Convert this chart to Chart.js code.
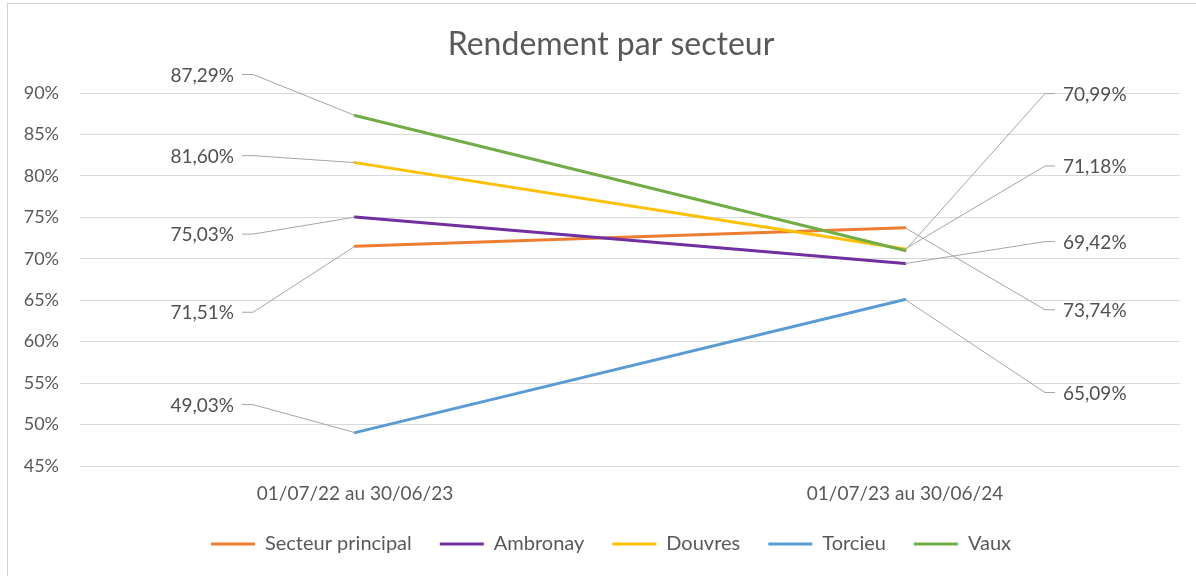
<!DOCTYPE html>
<html>
<head>
<meta charset="utf-8">
<script src="https://cdn.jsdelivr.net/npm/chart.js@4/dist/chart.umd.min.js"></script>
<style>
  html, body { margin: 0; padding: 0; background: #ffffff; overflow: hidden; }
  #wrap { width: 1222px; height: 576px; }
</style>
</head>
<body>
<div id="wrap"><canvas id="c" width="1222" height="576"></canvas></div>
<script>
// ---- Data ----
const categories = ['01/07/22 au 30/06/23', '01/07/23 au 30/06/24'];
const seriesNames = ['Secteur principal', 'Ambronay', 'Douvres', 'Torcieu', 'Vaux'];
const secteurPrincipal = [71.51, 73.74];
const ambronay = [75.03, 69.42];
const douvres = [81.60, 71.18];
const torcieu = [49.03, 65.09];
const vaux = [87.29, 70.99];
const yTicks = [45, 50, 55, 60, 65, 70, 75, 80, 85, 90];

// ---- Styling / layout (kept apart from data) ----
const seriesColors = ['#ED7D31', '#7030A0', '#FFC000', '#5B9BD5', '#70AD47'];
// vertical shift (px) of each data label relative to its point: [left point, right point]
const labelShiftY = [
  [66, 82],
  [17, -22],
  [-7, -83],
  [-28, 93],
  [-41, -157]
];
const FONT = "Lato, 'Open Sans', sans-serif";
const TEXT = '#595959';

const seriesValues = [secteurPrincipal, ambronay, douvres, torcieu, vaux];

const borderPlugin = {
  id: 'outerBorder',
  beforeDraw(chart) {
    const ctx = chart.ctx;
    ctx.save();
    ctx.fillStyle = '#ffffff';
    ctx.fillRect(0, 0, chart.width, chart.height);
    ctx.strokeStyle = '#D0D0D0';
    ctx.lineWidth = 1;
    ctx.strokeRect(7.5, 3.5, chart.width - 15, chart.height + 20);
    ctx.restore();
  }
};

const labelPlugin = {
  id: 'leaderLabels',
  afterDatasetsDraw(chart) {
    const ctx = chart.ctx;
    ctx.save();
    ctx.font = '19px ' + FONT;
    ctx.textBaseline = 'middle';
    chart.data.datasets.forEach((ds, i) => {
      const meta = chart.getDatasetMeta(i);
      meta.data.forEach((pt, j) => {
        const v = ds.data[j];
        const ly = pt.y + labelShiftY[i][j];
        const txt = v.toFixed(2).replace('.', ',') + '%';
        let endX, kneeX, textX, align;
        if (j === 0) {
          kneeX = pt.x - 102; endX = pt.x - 113; textX = pt.x - 121; align = 'right';
        } else {
          kneeX = pt.x + 140; endX = pt.x + 150; textX = pt.x + 158; align = 'left';
        }
        ctx.strokeStyle = '#A6A6A6';
        ctx.lineWidth = 1;
        ctx.beginPath();
        ctx.moveTo(pt.x, pt.y);
        ctx.lineTo(kneeX, ly);
        ctx.lineTo(endX, ly);
        ctx.stroke();
        ctx.fillStyle = '#505050';
        ctx.textAlign = align;
        ctx.fillText(txt, textX, ly + 1);
      });
    });
    ctx.restore();
  }
};

new Chart(document.getElementById('c'), {
  type: 'line',
  data: {
    labels: categories,
    datasets: seriesNames.map((name, i) => ({
      label: name,
      data: seriesValues[i],
      borderColor: seriesColors[i],
      backgroundColor: seriesColors[i],
      borderWidth: 3,
      borderCapStyle: 'round',
      pointRadius: 0,
      pointHoverRadius: 0,
      tension: 0,
      order: seriesNames.length - 1 - i,
      yAxisID: 'y'
    }))
  },
  options: {
    responsive: false,
    animation: false,
    devicePixelRatio: 1,
    layout: { padding: { left: 0, right: 0, top: 0, bottom: 12 } },
    plugins: {
      title: {
        display: true,
        text: 'Rendement par secteur',
        color: TEXT,
        font: { family: FONT, size: 32, weight: 'normal' },
        padding: { top: 25, bottom: 29.6 }
      },
      legend: {
        display: true,
        position: 'bottom',
        labels: {
          color: TEXT,
          font: { family: FONT, size: 20 },
          boxWidth: 44,
          boxHeight: 3,
          padding: 28,
          sort: (a, b) => a.datasetIndex - b.datasetIndex,
          generateLabels(chart) {
            const items = Chart.defaults.plugins.legend.labels.generateLabels(chart);
            items.forEach(it => {
              it.fillStyle = seriesColors[it.datasetIndex];
              it.strokeStyle = 'rgba(0,0,0,0)';
              it.lineWidth = 0;
            });
            return items;
          }
        }
      },
      tooltip: { enabled: false }
    },
    scales: {
      x: {
        type: 'category',
        offset: true,
        grid: { display: false, drawTicks: false },
        border: { display: false },
        ticks: {
          color: TEXT,
          font: { family: FONT, size: 19 },
          padding: 16,
          maxRotation: 0
        },
        afterFit(s) { s.height = 40; }
      },
      y: {
        type: 'linear',
        position: 'left',
        min: 45,
        max: 90,
        grid: { color: '#D9D9D9', lineWidth: 1, drawTicks: false },
        border: { display: false },
        afterBuildTicks(s) { s.ticks = yTicks.map(v => ({ value: v })); },
        ticks: {
          color: TEXT,
          font: { family: FONT, size: 18 },
          padding: 21,
          callback: v => v + '%'
        },
        afterFit(s) { s.width = 80; }
      },
      yRight: {
        type: 'linear',
        position: 'right',
        display: true,
        grid: { display: false, drawTicks: false },
        border: { display: false },
        ticks: { display: false },
        afterFit(s) { s.width = 42; }
      }
    }
  },
  plugins: [borderPlugin, labelPlugin]
});
</script>
</body>
</html>
